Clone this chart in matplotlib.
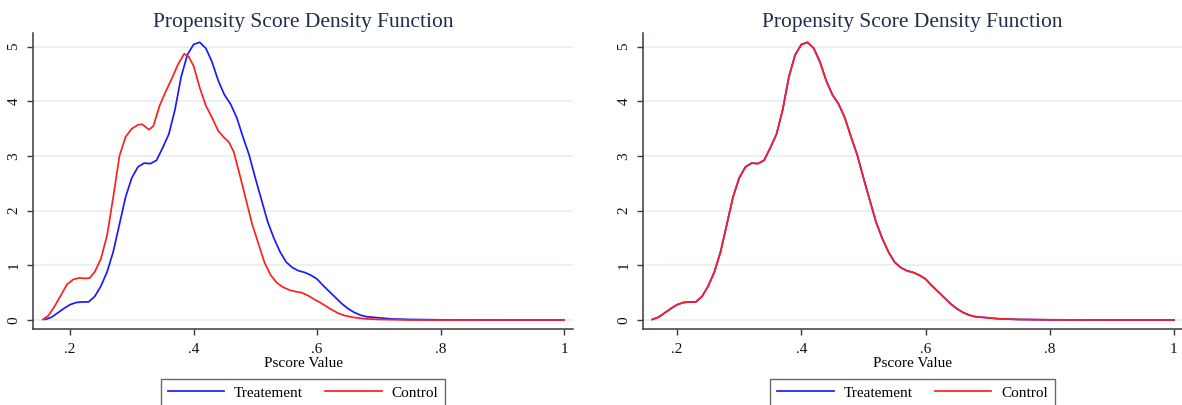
import matplotlib
matplotlib.use("Agg")
import matplotlib.pyplot as plt

plt.rcParams['font.family'] = ['Liberation Serif', 'DejaVu Serif']

# density of the propensity score
treat_x = [0.16, 0.17, 0.18, 0.19, 0.20, 0.21, 0.22, 0.23, 0.24, 0.25, 0.26, 0.27,
           0.28, 0.29, 0.30, 0.31, 0.32, 0.33, 0.34, 0.35, 0.36, 0.37, 0.38, 0.39,
           0.40, 0.41, 0.42, 0.43, 0.44, 0.45, 0.46, 0.47, 0.48, 0.49, 0.50, 0.51,
           0.52, 0.53, 0.54, 0.55, 0.56, 0.57, 0.58, 0.59, 0.60, 0.61, 0.62, 0.63,
           0.64, 0.65, 0.66, 0.67, 0.68, 0.70, 0.72, 0.75, 0.80, 0.90, 1.00]
treat_y = [0.01, 0.05, 0.13, 0.21, 0.28, 0.32, 0.33, 0.33, 0.43, 0.62, 0.88, 1.25,
           1.75, 2.25, 2.60, 2.80, 2.87, 2.86, 2.92, 3.15, 3.40, 3.85, 4.45, 4.85,
           5.04, 5.08, 4.97, 4.72, 4.38, 4.12, 3.95, 3.70, 3.35, 3.02, 2.60, 2.20,
           1.80, 1.50, 1.25, 1.06, 0.96, 0.90, 0.87, 0.82, 0.75, 0.63, 0.52, 0.41,
           0.30, 0.21, 0.14, 0.09, 0.06, 0.04, 0.02, 0.01, 0.003, 0.0, 0.0]

ctrl_x = [0.156, 0.165, 0.175, 0.185, 0.195, 0.205, 0.215, 0.225, 0.232, 0.24, 0.25,
          0.26, 0.27, 0.28, 0.29, 0.30, 0.31, 0.317, 0.328, 0.335, 0.345, 0.355,
          0.365, 0.375, 0.385, 0.392, 0.40, 0.41, 0.42, 0.43, 0.44, 0.45, 0.457,
          0.465, 0.475, 0.485, 0.495, 0.505, 0.515, 0.525, 0.535, 0.545, 0.555,
          0.565, 0.575, 0.585, 0.595, 0.605, 0.615, 0.625, 0.635, 0.645, 0.66,
          0.68, 0.70, 0.75, 1.00]
ctrl_y = [0.01, 0.08, 0.25, 0.45, 0.65, 0.74, 0.77, 0.76, 0.77, 0.88, 1.12,
          1.55, 2.25, 3.00, 3.35, 3.50, 3.57, 3.58, 3.48, 3.55, 3.92, 4.18,
          4.42, 4.68, 4.87, 4.82, 4.65, 4.25, 3.92, 3.70, 3.46, 3.33, 3.26,
          3.08, 2.65, 2.20, 1.75, 1.40, 1.05, 0.82, 0.68, 0.60, 0.55,
          0.52, 0.50, 0.45, 0.38, 0.32, 0.25, 0.18, 0.12, 0.08, 0.045,
          0.02, 0.01, 0.0, 0.0]

# after matching both groups share the same density
matched_treat_x, matched_treat_y = treat_x, treat_y
matched_ctrl_x, matched_ctrl_y = treat_x, treat_y

xticks = [0.2, 0.4, 0.6, 0.8, 1.0]
xticklabels = ['.2', '.4', '.6', '.8', '1']
yticks = [0, 1, 2, 3, 4, 5]

W, H = 1182, 405
fig = plt.figure(figsize=(W / 100, H / 100), dpi=100)

panels = [
    ((33, 573), (0.14, 1.0146), (treat_x, treat_y), (ctrl_x, ctrl_y)),
    ((643, 1182), (0.145, 1.013), (matched_treat_x, matched_treat_y),
     (matched_ctrl_x, matched_ctrl_y)),
]

spine_col = '#3a3a3a'
for (px0, px1), xlim, (tx, ty), (cx, cy) in panels:
    top, bottom = 33, 329
    ax = fig.add_axes([px0 / W, (H - bottom) / H, (px1 - px0) / W, (bottom - top) / H])
    ax.set_xlim(*xlim)
    ax.set_ylim(-0.165, 5.25)
    ax.set_yticks(yticks)
    ax.set_xticks(xticks)
    ax.set_xticklabels(xticklabels)
    ax.grid(axis='y', color='#e8f0f2', linewidth=1.3)
    ax.set_axisbelow(True)
    for s in ['top', 'right']:
        ax.spines[s].set_visible(False)
    for s in ['left', 'bottom']:
        ax.spines[s].set_color(spine_col)
        ax.spines[s].set_linewidth(1.1)
    ax.tick_params(axis='both', length=4, width=1.0, color=spine_col,
                   labelsize=11, labelcolor='#111111')
    ax.tick_params(axis='x', pad=6)
    ax.tick_params(axis='y', pad=5)
    for lab in ax.get_yticklabels():
        lab.set_rotation(90)
        lab.set_va('center')

    ax.plot(tx, ty, color='#1a1aff', lw=1.25, label='Treatement')
    ax.plot(cx, cy, color='#ff1f1f', lw=1.25, label='Control')

    ax.set_title('Propensity Score Density Function', fontsize=15.5,
                 color='#1f2d4d', pad=4)
    ax.set_xlabel('Pscore Value', fontsize=11, labelpad=1)

    leg = ax.legend(loc='upper center', bbox_to_anchor=(0.5, -0.169), ncol=2,
                    fontsize=11, handlelength=3.7, columnspacing=1.45,
                    handletextpad=0.65, borderpad=0.45, borderaxespad=0,
                    frameon=True, fancybox=False, edgecolor='#444444')
    leg.get_frame().set_linewidth(1.0)

fig.savefig('out.png', dpi=100)
